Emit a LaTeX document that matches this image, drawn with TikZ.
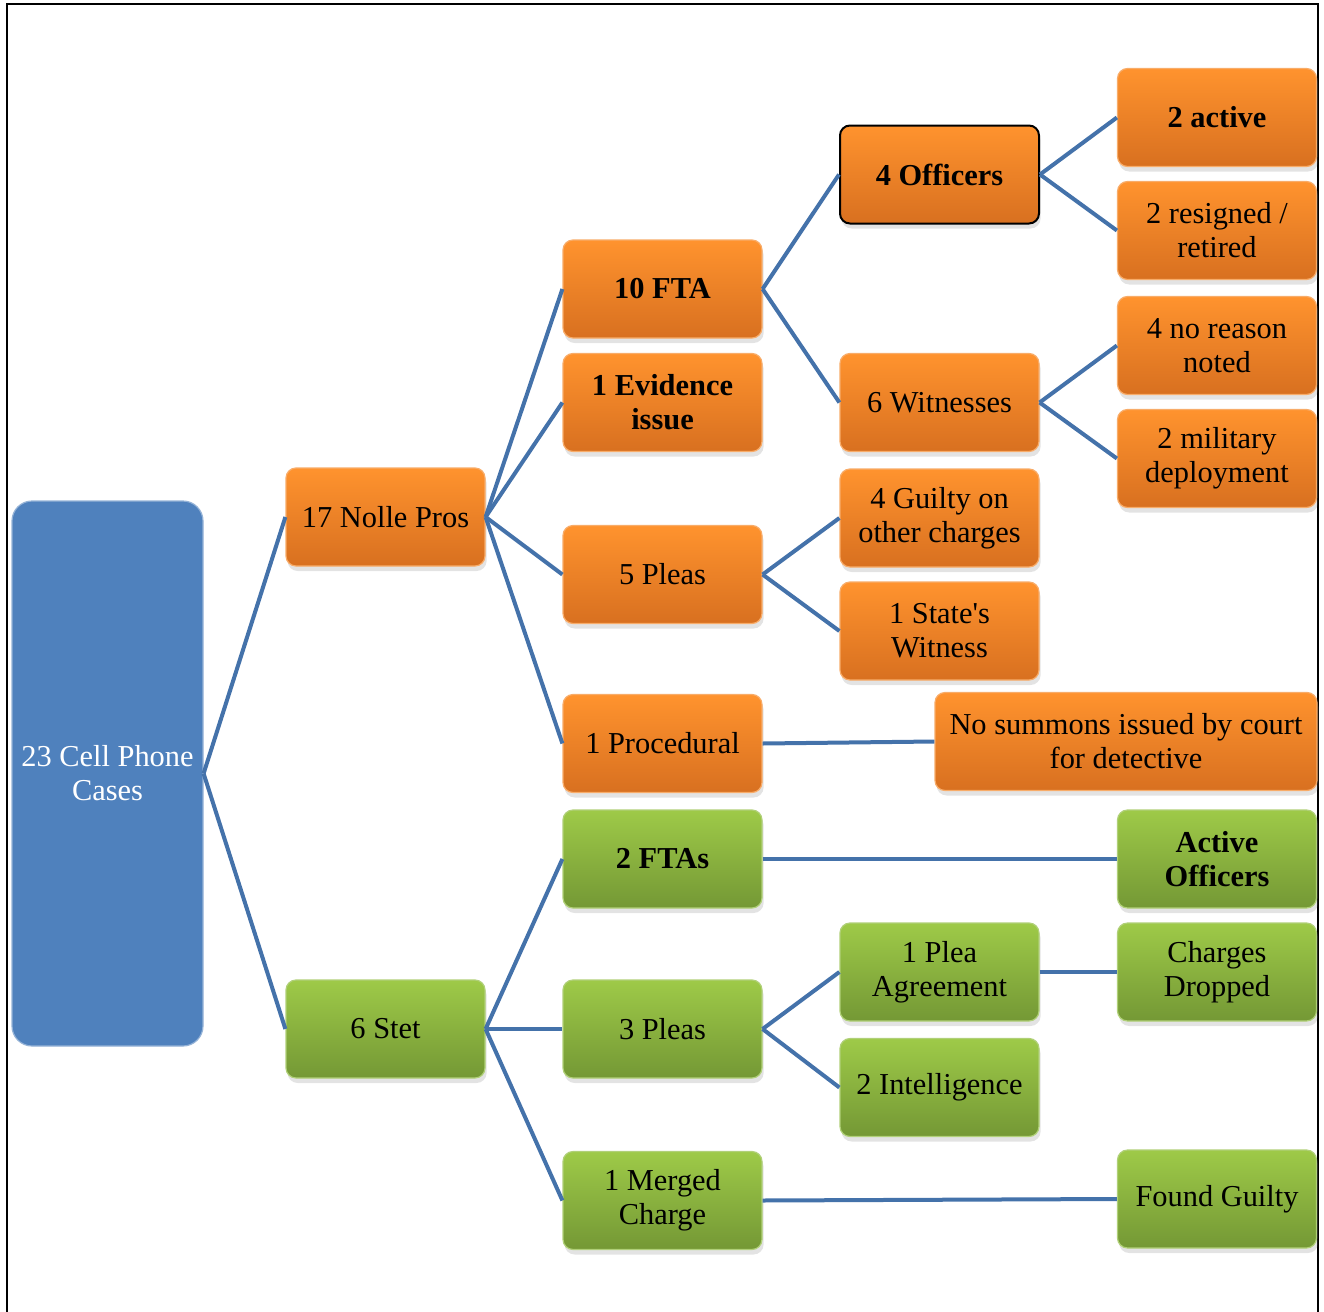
\documentclass[tikz,border=0pt]{standalone}
\usepackage{fontspec}
\setmainfont{Liberation Serif}
\usetikzlibrary{shadows}
\definecolor{orangetop}{RGB}{255,147,46}
\definecolor{orangebot}{RGB}{216,112,32}
\definecolor{orangeline}{RGB}{248,172,105}
\definecolor{greentop}{RGB}{158,202,72}
\definecolor{greenbot}{RGB}{116,152,53}
\definecolor{greenline}{RGB}{176,208,120}
\definecolor{rootblue}{RGB}{79,129,189}
\definecolor{linkblue}{RGB}{68,114,170}

\tikzset{
  box/.style={rounded corners=5pt, minimum width=99.5pt, minimum height=49pt,
    align=center, inner sep=2pt, line width=0.6pt,
    font=\fontsize{15.2}{17}\selectfont,
    drop shadow={shadow xshift=0.8pt, shadow yshift=-2.5pt, opacity=0.22}},
  orangebox/.style={box, draw=orangeline, top color=orangetop, bottom color=orangebot},
  greenbox/.style={box, draw=greenline, top color=greentop, bottom color=greenbot},
  rootbox/.style={rounded corners=10pt, minimum width=95.5pt, minimum height=272.5pt,
    align=center, inner sep=2pt, fill=rootblue, draw=rootblue!60!white, line width=0.6pt,
    text=white, font=\fontsize{15.2}{17}\selectfont},
  link/.style={draw=linkblue, line width=2pt},
}

\begin{document}
\begin{tikzpicture}[x=0.5pt, y=-0.5pt]
\useasboundingbox (0,0) rectangle (1324,1312);

% frame
\draw[line width=1pt] (7,1312) -- (7,4) -- (1318,4) -- (1318,1312);

% root
\node[rootbox] (root) at (107.5,773.5) {23 Cell Phone\\Cases};

% level 1
\node[orangebox] (nolle) at (385.5,517) {17 Nolle Pros};
\node[greenbox] (stet) at (385.5,1029) {6 Stet};

% level 2
\node[orangebox, font=\fontsize{15.2}{17}\selectfont\bfseries] (fta) at (662.5,289) {10 FTA};
\node[orangebox, font=\fontsize{15.2}{17}\selectfont\bfseries] (evidence) at (662.5,402.5) {1 Evidence\\issue};
\node[orangebox] (pleasfive) at (662.5,574.5) {5 Pleas};
\node[orangebox] (procedural) at (662.5,743.5) {1 Procedural};
\node[greenbox, font=\fontsize{15.2}{17}\selectfont\bfseries] (ftas) at (662.5,859) {2 FTAs};
\node[greenbox] (pleasthree) at (662.5,1029) {3 Pleas};
\node[greenbox] (merged) at (662.5,1200.5) {1 Merged\\Charge};

% level 3
\node[orangebox, draw=black, line width=1pt, font=\fontsize{15.2}{17}\selectfont\bfseries] (officers) at (939.5,174.5) {4 Officers};
\node[orangebox] (witnesses) at (939.5,402.5) {6 Witnesses};
\node[orangebox] (guiltyother) at (939.5,518) {4 Guilty on\\other charges};
\node[orangebox] (statewit) at (939.5,631) {1 State\textquotesingle s\\Witness};
\node[orangebox, minimum width=191pt] (summons) at (1126,741.5) {No summons issued by court\\for detective};
\node[greenbox] (pleaagr) at (939.5,972) {1 Plea\\Agreement};
\node[greenbox] (intel) at (939.5,1087.5) {2 Intelligence};

% level 4
\node[orangebox, font=\fontsize{15.2}{17}\selectfont\bfseries] (active) at (1217,117.5) {2 active};
\node[orangebox] (resigned) at (1217,230.5) {2 resigned /\\retired};
\node[orangebox] (noreason) at (1217,345.5) {4 no reason\\noted};
\node[orangebox] (military) at (1217,458.5) {2 military\\deployment};
\node[greenbox, font=\fontsize{15.2}{17}\selectfont\bfseries] (activeoff) at (1217,859) {Active\\Officers};
\node[greenbox] (dropped) at (1217,972) {Charges\\Dropped};
\node[greenbox] (foundguilty) at (1217,1199) {Found Guilty};

% connectors
\draw[link] (root.east) -- (nolle.west);
\draw[link] (root.east) -- (stet.west);
\foreach \kid in {fta,evidence,pleasfive,procedural}
  \draw[link] (nolle.east) -- (\kid.west);
\foreach \kid in {ftas,pleasthree,merged}
  \draw[link] (stet.east) -- (\kid.west);
\draw[link] (fta.east) -- (officers.west);
\draw[link] (fta.east) -- (witnesses.west);
\draw[link] (pleasfive.east) -- (guiltyother.west);
\draw[link] (pleasfive.east) -- (statewit.west);
\draw[link] (procedural.east) -- (summons.west);
\draw[link] (officers.east) -- (active.west);
\draw[link] (officers.east) -- (resigned.west);
\draw[link] (witnesses.east) -- (noreason.west);
\draw[link] (witnesses.east) -- (military.west);
\draw[link] (ftas.east) -- (activeoff.west);
\draw[link] (pleasthree.east) -- (pleaagr.west);
\draw[link] (pleasthree.east) -- (intel.west);
\draw[link] (pleaagr.east) -- (dropped.west);
\draw[link] (merged.east) -- (foundguilty.west);

\end{tikzpicture}
\end{document}
